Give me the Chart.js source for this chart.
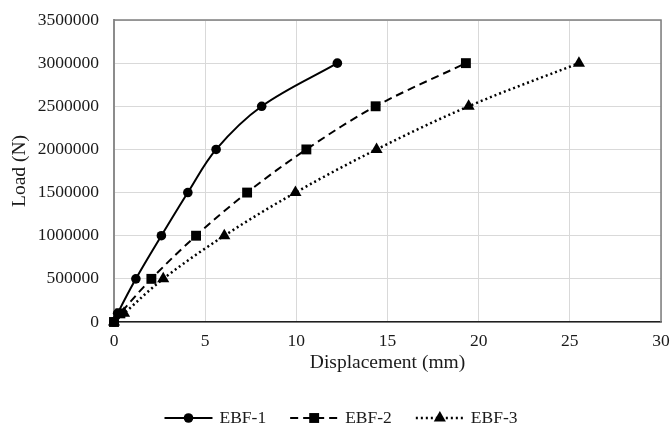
<!DOCTYPE html>
<html>
<head>
<meta charset="utf-8">
<title>Load - Displacement</title>
<script src="https://cdn.jsdelivr.net/npm/chart.js@4.4.0/dist/chart.umd.min.js"></script>
<style>
  html, body { margin: 0; padding: 0; background: #fff; }
  #wrap { width: 670px; height: 424px; }
</style>
</head>
<body>
<div id="wrap"><canvas id="loadChart" width="670" height="424"></canvas></div>
<script>
// load steps (N), shared by all three frames
const loads = [0, 100000, 500000, 1000000, 1500000, 2000000, 2500000, 3000000];

// displacement (mm) at each load step
const dispEBF1 = [0, 0.2, 1.2, 2.6, 4.05, 5.6, 8.1, 12.25];
const dispEBF2 = [0, 0.35, 2.05, 4.5, 7.3, 10.55, 14.35, 19.3];
const dispEBF3 = [0, 0.55, 2.7, 6.05, 9.95, 14.4, 19.45, 25.5];

const seriesNames = ['EBF-1', 'EBF-2', 'EBF-3'];

// axis ranges / tick spacing
const xMax = 30, xStep = 5;
const yMax = 3500000, yStep = 500000;

const FONT = "'Liberation Serif', 'Times New Roman', serif";
const toPoints = (xs) => xs.map((x, i) => ({ x: x, y: loads[i] }));

document.addEventListener('DOMContentLoaded', () => {
    const ctx = document.getElementById('loadChart').getContext('2d');

    Chart.defaults.font.family = FONT;
    Chart.defaults.color = '#1a1a1a';

    // grey frame on top/right of the plot area
    const plotFrame = {
        id: 'plotFrame',
        beforeDatasetsDraw(chart) {
            const { left, top, right, bottom } = chart.chartArea;
            const c = chart.ctx;
            c.save();
            c.strokeStyle = '#7f7f7f';
            c.lineWidth = 1.5;
            c.beginPath();
            c.moveTo(left, top);
            c.lineTo(right, top);
            c.lineTo(right, bottom);
            c.stroke();
            c.restore();
        }
    };

    // legend under the axis title: line sample with marker, then label
    const lineLegend = {
        id: 'lineLegend',
        afterDraw(chart) {
            const c = chart.ctx;
            const y = 418;
            const sampleW = 48, gap = 7, itemGap = 24;
            c.save();
            c.font = '17.5px ' + FONT;
            const items = chart.data.datasets.map(ds => ({ ds, w: c.measureText(ds.label).width }));
            const total = items.reduce((s, it) => s + sampleW + gap + it.w, 0) + itemGap * (items.length - 1);
            let x = chart.width / 2 + 6 - total / 2;
            items.forEach(({ ds, w }) => {
                c.strokeStyle = '#000';
                c.fillStyle = '#000';
                c.lineWidth = ds.borderWidth;
                c.setLineDash(ds.borderDash || []);
                c.beginPath();
                c.moveTo(x, y);
                c.lineTo(x + sampleW, y);
                c.stroke();
                c.setLineDash([]);
                Chart.helpers.drawPoint(c, {
                    pointStyle: ds.pointStyle,
                    radius: ds.pointRadius,
                    rotation: 0,
                    borderWidth: 0
                }, x + sampleW / 2, y);
                c.fillStyle = '#1a1a1a';
                c.textBaseline = 'middle';
                c.textAlign = 'left';
                c.fillText(ds.label, x + sampleW + gap, y);
                x += sampleW + gap + w + itemGap;
            });
            c.restore();
        }
    };

    const common = {
        borderColor: '#000',
        backgroundColor: '#000',
        pointBorderWidth: 0,
        tension: 0.35,
        fill: false,
        clip: false
    };

    new Chart(ctx, {
        type: 'line',
        data: {
            datasets: [{
                ...common,
                label: seriesNames[0],
                data: toPoints(dispEBF1),
                borderWidth: 2,
                pointStyle: 'circle',
                pointRadius: 4.8
            }, {
                ...common,
                label: seriesNames[1],
                data: toPoints(dispEBF2),
                borderWidth: 2,
                borderDash: [8, 5],
                pointStyle: 'rect',
                pointRadius: 7
            }, {
                ...common,
                label: seriesNames[2],
                data: toPoints(dispEBF3),
                borderWidth: 2.5,
                borderDash: [2, 3],
                pointStyle: 'triangle',
                pointRadius: 7
            }]
        },
        options: {
            responsive: false,
            animation: false,
            layout: { padding: { left: 0, right: 9, top: 20, bottom: 42 } },
            plugins: {
                legend: { display: false },
                tooltip: { enabled: false }
            },
            scales: {
                x: {
                    type: 'linear',
                    min: 0,
                    max: xMax,
                    ticks: { stepSize: xStep, padding: 9, font: { size: 17.5 } },
                    grid: { color: '#d9d9d9', drawTicks: false },
                    border: { color: '#1f1f1f', width: 1.5 },
                    title: {
                        display: true,
                        text: 'Displacement (mm)',
                        font: { size: 19.5, lineHeight: 1.2 },
                        padding: { top: 0, bottom: 7 }
                    },
                    afterFit: (scale) => {
                        scale.height = 60;
                        scale.paddingRight = 0;
                        scale.paddingLeft = 0;
                    }
                },
                y: {
                    min: 0,
                    max: yMax,
                    ticks: {
                        stepSize: yStep,
                        padding: 15,
                        font: { size: 17.5 },
                        callback: (v) => String(v)
                    },
                    grid: { color: '#d9d9d9', drawTicks: false },
                    border: { color: '#8c8c8c', width: 2 },
                    title: {
                        display: true,
                        text: 'Load (N)',
                        font: { size: 19.5, lineHeight: 1.2 },
                        padding: { top: 8, bottom: 0 }
                    },
                    afterFit: (scale) => {
                        scale.width = 114;
                        scale.paddingTop = 0;
                        scale.paddingBottom = 0;
                    }
                }
            }
        },
        plugins: [plotFrame, lineLegend]
    });
});
</script>
</body>
</html>
